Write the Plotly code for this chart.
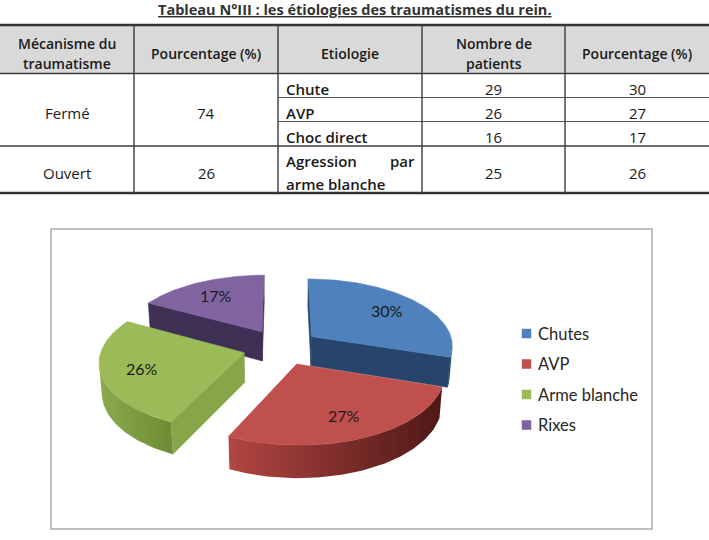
import numpy as np
import plotly.graph_objects as go

# ---------------- data ----------------
table_title = "Tableau N°III : les étiologies des traumatismes du rein."
header_cells = ["Mécanisme du\ntraumatisme", "Pourcentage (%)", "Etiologie",
                "Nombre de\npatients", "Pourcentage (%)"]
mecanismes = ["Fermé", "Ouvert"]
mecanisme_pct = [74, 26]
etiologies = ["Chute", "AVP", "Choc direct", "Agression par\narme blanche"]
nb_patients = [29, 26, 16, 25]
etiologie_pct = [30, 27, 17, 26]

pie_labels = ["Chutes", "AVP", "Arme blanche", "Rixes"]
pie_values = [30, 27, 26, 17]
pie_top_colors = ["#4F81BD", "#C0504D", "#9BBB59", "#8064A2"]
pie_wall_colors = [["#2E5079", "#2A4870"], ["#B24643", "#4E1816"],
                   ["#8BAB4D", "#6C8B35"], ["#4A3A62", "#3C2E52"]]
pie_cut_colors = ["#27446A", "#7A2C2A", "#86A648", "#3E3054"]

# ---------------- layout helpers ----------------
W, H = 709, 540
FONT_T = "Open Sans"
FONT_C = "Lato"

fig = go.Figure()
shapes = []
ann = []

def text(x, y, s, size=15, weight=400, anchor="center", family=FONT_T, color="#1a1a1a"):
    ann.append(dict(x=x, y=y, xref="x", yref="y", text=s, showarrow=False,
                    xanchor=anchor, yanchor="middle",
                    font=dict(family=family, size=size, color=color, weight=weight)))

def hline(y, x0, x1, w=1.2, c="#3c3c3c"):
    shapes.append(dict(type="line", xref="x", yref="y", x0=x0, x1=x1, y0=y, y1=y,
                       line=dict(color=c, width=w)))

def vline(x, y0, y1, w=1.4, c="#3c3c3c"):
    shapes.append(dict(type="line", xref="x", yref="y", x0=x, x1=x, y0=y0, y1=y1,
                       line=dict(color=c, width=w)))

# ---------------- table ----------------
col_edges = [0, 134, 278, 422, 565, 709]
top, head_bot, row_bot = 25, 73.5, [97.5, 121.5, 146, 193]
col_mid = [(col_edges[i] + col_edges[i + 1]) / 2 for i in range(5)]

text(355, 9, "<u>" + table_title + "</u>", size=14.5, weight=700, color="#333333")

shapes.append(dict(type="rect", xref="x", yref="y", x0=0, x1=W, y0=top, y1=head_bot,
                   fillcolor="#D9D9D9", line=dict(width=0), layer="below"))
hline(top, 0, W, 2.5, "#333333")
hline(head_bot, 0, W, 1.5)
hline(row_bot[0], col_edges[2], W, 1.0, "#555555")
hline(row_bot[1], col_edges[2], W, 1.0, "#555555")
hline(row_bot[2], 0, W, 1.5)
hline(row_bot[3], 0, W, 2.5, "#333333")
for x in col_edges[1:-1]:
    vline(x, top, row_bot[3])

for i, h in enumerate(header_cells):
    lines = h.split("\n")
    if len(lines) == 1:
        text(col_mid[i], 53, lines[0], size=14, weight=600)
    else:
        text(col_mid[i], 43, lines[0], size=14, weight=600)
        text(col_mid[i], 63.5, lines[1], size=14, weight=600)

# merged cells
mech_y = [(head_bot + row_bot[2]) / 2 + 3, (row_bot[2] + row_bot[3]) / 2 + 3]
for i in range(2):
    text(col_mid[0], mech_y[i], mecanismes[i])
    text(col_mid[1], mech_y[i], str(mecanisme_pct[i]))

ety_y = [88.5, 112.5, 136.5, 172.5]
xl, xr = col_edges[2] + 6, col_edges[3] - 5
for i, e in enumerate(etiologies):
    lines = e.split("\n")
    if len(lines) == 1:
        text(xl, ety_y[i], lines[0], weight=600, anchor="left")
    else:
        words = lines[0].split(" ")
        text(xl, 160.5, words[0], weight=600, anchor="left")
        text(xr, 160.5, words[1], weight=600, anchor="right")
        text(xl, 183.5, lines[1], weight=600, anchor="left")
    text(col_mid[3], ety_y[i], str(nb_patients[i]))
    text(col_mid[4], ety_y[i], str(etiologie_pct[i]))

# ---------------- chart frame ----------------
shapes.append(dict(type="rect", xref="x", yref="y", x0=51, x1=652, y0=229, y1=529,
                   line=dict(color="#ABABAB", width=1.5), fillcolor="rgba(0,0,0,0)"))

# ---------------- 3D pie (perspective projection) ----------------
PHI = np.radians(28.1)
S, C = np.sin(PHI), np.cos(PHI)
DIST, FOC, THICK, EXPLODE = 7.35, 1044.0, 0.24, 0.27
CX0, CY0 = 281.0, 347.0
CAM = np.array([0.0, DIST * S, DIST * C])

def project(p):
    p = np.asarray(p, dtype=float)
    x, y, z = p[:, 0], p[:, 1], p[:, 2]
    u = y * C - z * S
    depth = DIST - (y * S + z * C)
    return CX0 + FOC * x / depth, CY0 - FOC * u / depth

def poly(pts, fill=None, grad=None):
    sx, sy = project(pts)
    sx = np.append(sx, sx[0]); sy = np.append(sy, sy[0])
    kw = dict(x=sx, y=sy, mode="lines", fill="toself", hoverinfo="skip",
              showlegend=False)
    if grad is not None:
        kw["fillgradient"] = dict(type="horizontal",
                                  colorscale=[[0, grad[0]], [1, grad[1]]])
        kw["line"] = dict(width=0)
    else:
        kw["fillcolor"] = fill
        kw["line"] = dict(width=0.6, color=fill)
    fig.add_trace(go.Scatter(**kw))

fr = np.array(pie_values, float) / sum(pie_values)
bounds = np.concatenate([[0], np.cumsum(fr)]) * 2 * np.pi
slices = []
for i in range(len(pie_values)):
    t0, t1 = bounds[i], bounds[i + 1]
    m = (t0 + t1) / 2
    ox, oz = EXPLODE * np.sin(m), -EXPLODE * np.cos(m)
    zmid = oz - 0.5 * np.cos(m)
    slices.append((DIST - zmid * C, i, t0, t1, m, ox, oz))
slices.sort(key=lambda s: -s[0])

label_pos = {}
for _, i, t0, t1, m, ox, oz in slices:
    ts = np.linspace(t0, t1, 90)
    rim_top = np.stack([ox + np.sin(ts), np.zeros_like(ts), oz - np.cos(ts)], 1)
    rim_bot = rim_top.copy(); rim_bot[:, 1] = -THICK
    apex_t = np.array([ox, 0, oz]); apex_b = np.array([ox, -THICK, oz])
    # outer wall (front-facing part)
    nrm = np.stack([np.sin(ts), np.zeros_like(ts), -np.cos(ts)], 1)
    vis = np.einsum("ij,ij->i", nrm, CAM - (rim_top + rim_bot) / 2) > 0
    if vis.sum() > 1:
        idx = np.where(vis)[0]
        runs = np.split(idx, np.where(np.diff(idx) > 1)[0] + 1)
        for r in runs:
            if len(r) < 2:
                continue
            pts = np.vstack([rim_top[r], rim_bot[r][::-1]])
            poly(pts, grad=pie_wall_colors[i])
    # radial cut faces
    for t, sgn in ((t0, -1), (t1, 1)):
        n = sgn * np.array([np.cos(t), 0, np.sin(t)])
        if np.dot(n, CAM - apex_t) > 0:
            rt = np.array([ox + np.sin(t), 0, oz - np.cos(t)])
            rb = rt.copy(); rb[1] = -THICK
            poly(np.vstack([apex_t, rt, rb, apex_b]), fill=pie_cut_colors[i])
    # top face
    poly(np.vstack([apex_t, rim_top]), fill=pie_top_colors[i])
    lx, ly = project([[ox + 0.72 * np.sin(m), 0, oz - 0.72 * np.cos(m)]])
    label_pos[i] = (lx[0], ly[0])

for i in range(len(pie_values)):
    lx, ly = label_pos[i]
    text(lx, ly, f"{pie_values[i]}%", size=16, family=FONT_C, color="#1a1a1a")

# ---------------- legend ----------------
leg_y = [333.5 + 30.5 * k for k in range(len(pie_labels))]
fig.add_trace(go.Scatter(x=[526.5] * len(pie_labels), y=leg_y, mode="markers",
                         marker=dict(symbol="square", size=9.5, color=pie_top_colors),
                         hoverinfo="skip", showlegend=False))
for k, lab in enumerate(pie_labels):
    text(536, leg_y[k], lab, size=16.5, family=FONT_C, anchor="left", color="#262626")

fig.update_layout(
    width=W, height=H, margin=dict(l=0, r=0, t=0, b=0),
    paper_bgcolor="white", plot_bgcolor="white",
    xaxis=dict(range=[0, W], visible=False, fixedrange=True),
    yaxis=dict(range=[H, 0], visible=False, fixedrange=True),
    shapes=shapes, annotations=ann, showlegend=False,
)
fig.write_html("out.html")
